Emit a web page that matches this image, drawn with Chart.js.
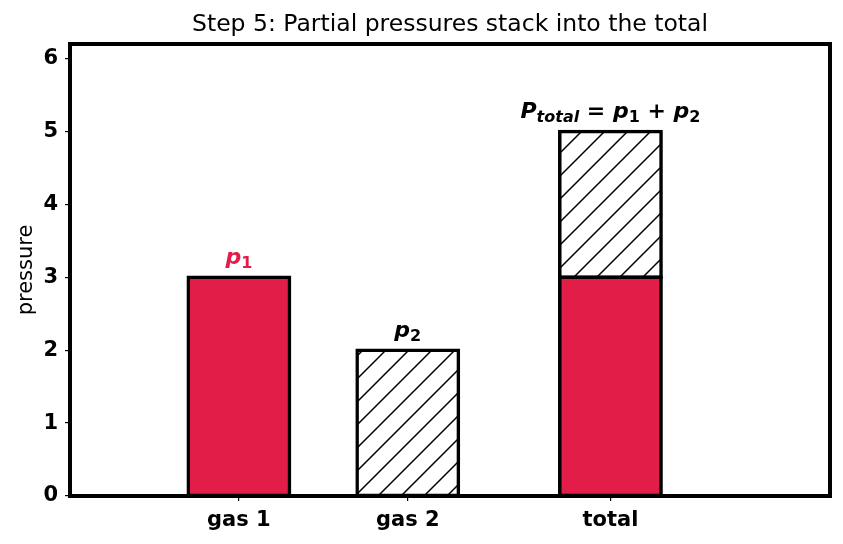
<!DOCTYPE html>
<html><head><meta charset="utf-8">
<script src="https://cdn.jsdelivr.net/npm/chart.js@4"></script>
<style>html,body{margin:0;padding:0;background:#fff}</style>
</head><body>
<canvas id="c" width="843" height="544"></canvas>
<script>
// ---- data ----
const categories = ['gas 1', 'gas 2', 'total'];
const positions = [0, 1, 2.2];
const gas1Values = [3, null, 3];
const gas2Values = [null, 2, 2];
const yTicks = [0, 1, 2, 3, 4, 5, 6];
const titleText = 'Step 5: Partial pressures stack into the total';
const yLabel = 'pressure';
const xRange = [-1, 3.5];
const yRange = [0, 6.2];
// annotation anchors (data coords)
const annoX = [0, 1, 2.2];
const annoY = [3.1, 2.1, 5.1];

const RED = '#e11d48';
const FONT = "'DejaVu Sans', sans-serif";

function hatch() {
  const s = 23, c = document.createElement('canvas');
  c.width = s; c.height = s;
  const g = c.getContext('2d');
  g.fillStyle = '#fff'; g.fillRect(0, 0, s, s);
  g.strokeStyle = '#000'; g.lineWidth = 1.5;
  g.beginPath();
  g.moveTo(-2, s + 2); g.lineTo(s + 2, -2);
  g.moveTo(-2, 2); g.lineTo(2, -2);
  g.moveTo(s - 2, s + 2); g.lineTo(s + 2, s - 2);
  g.stroke();
  return g.createPattern(c, 'repeat');
}

const toPts = vals => positions.map((x, i) => ({ x: x, y: vals[i] })).filter(p => p.y !== null);

const annotations = [
  { segs: [{ t: 'p', it: true, col: RED }, { t: '1', sub: true, col: RED }] },
  { segs: [{ t: 'p', it: true }, { t: '2', sub: true }] },
  { segs: [{ t: 'P', it: true }, { t: 'total', it: true, sub: true }, { t: ' = ' }, { t: 'p', it: true }, { t: '1', sub: true }, { t: ' + ' }, { t: 'p', it: true }, { t: '2', sub: true }] }
];

const plugin = {
  id: 'extras',
  afterDatasetsDraw(chart) {
    const ctx = chart.ctx, a = chart.chartArea;
    const xs = chart.scales.x, ys = chart.scales.y;
    ctx.save();
    const base = 22, subSize = 16;
    annotations.forEach((an, i) => {
      const cx = xs.getPixelForValue(annoX[i]);
      const by = ys.getPixelForValue(annoY[i]) - 6;
      const fontOf = s => (s.it ? 'italic ' : '') + 'bold ' + (s.sub ? subSize : base) + 'px ' + FONT;
      const widths = an.segs.map(s => { ctx.font = fontOf(s); return ctx.measureText(s.t).width; });
      const tot = widths.reduce((p, q) => p + q, 0);
      let x = cx - tot / 2;
      ctx.textBaseline = 'alphabetic';
      ctx.textAlign = 'left';
      an.segs.forEach((s, j) => {
        ctx.font = fontOf(s);
        ctx.fillStyle = s.col || '#000';
        ctx.fillText(s.t, x, by + (s.sub ? 4 : 0));
        x += widths[j];
      });
    });
    ctx.strokeStyle = '#000';
    ctx.lineWidth = 4;
    ctx.strokeRect(a.left, a.top, a.right - a.left, a.bottom - a.top);
    // title centred over the plot area
    ctx.font = '23.5px ' + FONT;
    ctx.fillStyle = '#000';
    ctx.textAlign = 'center';
    ctx.textBaseline = 'middle';
    ctx.fillText(titleText, (a.left + a.right) / 2, 25);
    ctx.restore();
  }
};

new Chart(document.getElementById('c'), {
  type: 'bar',
  data: {
    datasets: [
      { label: 'gas 1', data: toPts(gas1Values), backgroundColor: RED, borderColor: '#000', borderWidth: 3.5, borderSkipped: false, inflateAmount: 1.75, stack: 's' },
      { label: 'gas 2', data: toPts(gas2Values), backgroundColor: hatch(), borderColor: '#000', borderWidth: 3.5, borderSkipped: false, inflateAmount: 1.75, stack: 's' }
    ]
  },
  options: {
    responsive: false,
    animation: false,
    devicePixelRatio: 1,
    layout: { padding: { left: 0, right: 13, top: 44, bottom: 0 } },
    categoryPercentage: 1,
    barPercentage: 0.6,
    plugins: {
      legend: { display: false },
      tooltip: { enabled: false },
      title: { display: false }
    },
    scales: {
      x: {
        type: 'linear', stacked: true, offset: false, min: xRange[0], max: xRange[1],
        afterBuildTicks: s => { s.ticks = positions.map(v => ({ value: v })); },
        afterFit: s => { s.height = 48; },
        ticks: { color: '#000', font: { family: FONT, size: 21, weight: 'bold' }, padding: 7, callback: (v, i) => categories[i] },
        grid: { display: true, offset: false, drawOnChartArea: false, drawTicks: true, tickLength: 5, color: '#000', lineWidth: 1.2 },
        border: { display: false }
      },
      y: {
        type: 'linear', stacked: true, min: yRange[0], max: yRange[1],
        afterBuildTicks: s => { s.ticks = yTicks.map(v => ({ value: v })); },
        afterFit: s => { s.width = 70; },
        ticks: { color: '#000', font: { family: FONT, size: 21, weight: 'bold' }, padding: 7, callback: v => String(v) },
        grid: { display: true, drawOnChartArea: false, drawTicks: true, tickLength: 5, color: '#000', lineWidth: 1.2 },
        border: { display: false },
        title: { display: true, text: yLabel, color: '#000', font: { family: FONT, size: 21, weight: 'normal' }, padding: { top: 14, bottom: 0 } }
      }
    }
  },
  plugins: [plugin]
});
</script>
</body></html>
